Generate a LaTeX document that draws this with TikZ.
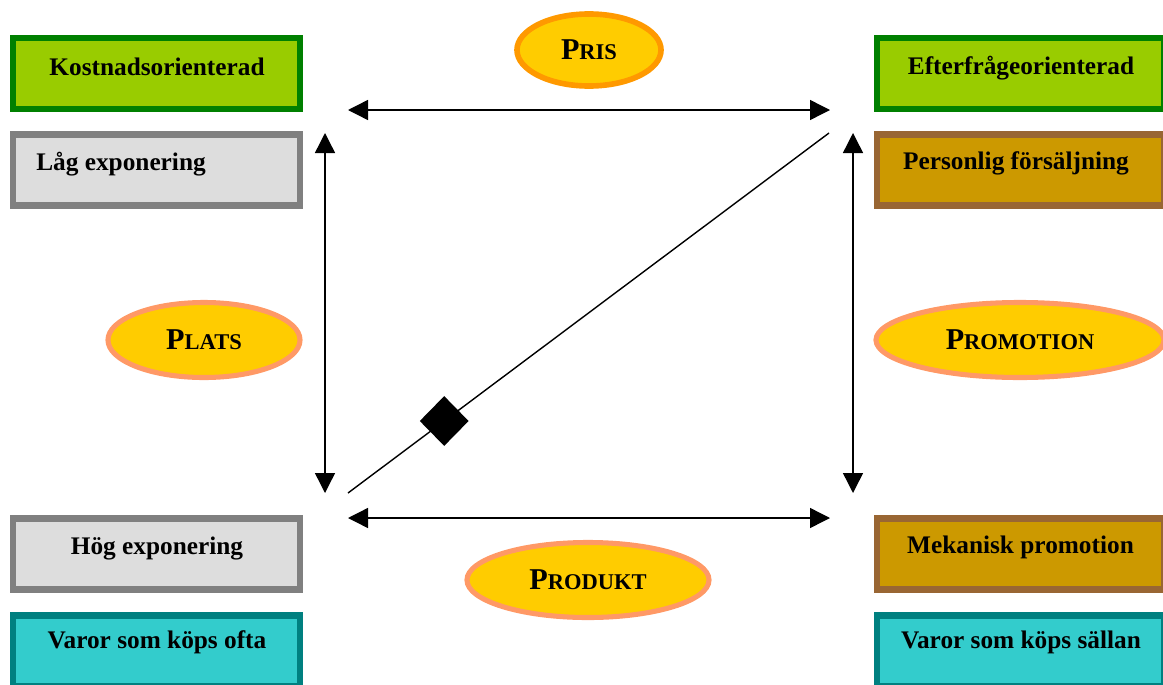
\documentclass[tikz,border=0pt]{standalone}
\usepackage{fontspec}
\setmainfont{Liberation Serif}
\usepackage{xcolor}
\usetikzlibrary{arrows.meta, positioning, calc, shapes.geometric}

\definecolor{limefill}{HTML}{99CC00}
\definecolor{limeline}{HTML}{008000}
\definecolor{greyfill}{HTML}{DDDDDD}
\definecolor{greyline}{HTML}{808080}
\definecolor{ochrefill}{HTML}{CC9900}
\definecolor{ochreline}{HTML}{996633}
\definecolor{tealfill}{HTML}{33CCCC}
\definecolor{tealline}{HTML}{008080}
\definecolor{goldfill}{HTML}{FFCC00}
\definecolor{orangeline}{HTML}{FF9900}
\definecolor{salmonline}{HTML}{FF9966}

% fake small caps: big first letter, smaller rest
\newcommand{\smcap}[2]{{\fontsize{21.5}{24}\selectfont #1}{\fontsize{16}{20}\selectfont #2}}

\begin{document}
\begin{tikzpicture}[x=0.025cm, y=-0.025cm,
    box/.style={draw, line width=4.3pt, minimum width=7.175cm, minimum height=1.775cm, inner sep=0pt},
    boxtext/.style={font=\fontsize{18}{20}\selectfont\bfseries, inner sep=0pt, anchor=base},
    pill/.style={ellipse, draw=salmonline, fill=goldfill, line width=3.6pt, inner sep=0pt, font=\bfseries},
    dbl/.style={{Triangle[length=0.5cm,width=0.5cm]}-{Triangle[length=0.5cm,width=0.5cm]}, line width=1pt}
]
    \useasboundingbox (0,0) rectangle (1163,684);

    % Left column
    \node[box, draw=limeline, fill=limefill] (kost) at (156.5,73.5) {};
    \node[box, draw=greyline, fill=greyfill] (lag) at (156.5,170) {};
    \node[box, draw=greyline, fill=greyfill] (hog) at (156.5,554) {};
    \node[box, draw=tealline, fill=tealfill] (ofta) at (156.5,651) {};
    \node[boxtext] (kost-t) at (157,75) {Kostnadsorienterad};
    \node[boxtext, anchor=base west] (lag-t) at (36,170) {Låg exponering};
    \node[boxtext] (hog-t) at (157,554) {Hög exponering};
    \node[boxtext] (ofta-t) at (157,648) {Varor som köps ofta};

    % Right column
    \node[box, draw=limeline, fill=limefill] (eft) at (1020.5,73.5) {};
    \node[box, draw=ochreline, fill=ochrefill] (pers) at (1020.5,170) {};
    \node[box, draw=ochreline, fill=ochrefill] (mek) at (1020.5,554) {};
    \node[box, draw=tealline, fill=tealfill] (sallan) at (1020.5,651) {};
    \node[boxtext] (eft-t) at (1021,74) {Efterfrågeorienterad};
    \node[boxtext] (pers-t) at (1016,169) {Personlig försäljning};
    \node[boxtext] (mek-t) at (1020.5,553) {Mekanisk promotion};
    \node[boxtext] (sallan-t) at (1021,648) {Varor som köps sällan};

    % The four P's
    \node[pill, draw=orangeline, line width=4pt, minimum width=3.6cm, minimum height=1.8cm] (pris) at (589,50) {\smcap{P}{RIS}};
    \node[pill, minimum width=4.8cm, minimum height=1.875cm] (plats) at (204,340) {\smcap{P}{LATS}\hspace{0.5cm}};
    \node[pill, minimum width=7.2cm, minimum height=1.875cm] (promo) at (1020,340) {\smcap{P}{ROMOTION}};
    \node[pill, minimum width=6.05cm, minimum height=1.875cm] (prod) at (588,580) {\smcap{P}{RODUKT}};

    % Arrow ends
    \coordinate (topL) at (348,110);
    \coordinate (topR) at (830,110);
    \coordinate (botL) at (348,518);
    \coordinate (botR) at (830,518);
    \coordinate (lftT) at (325,133);
    \coordinate (lftB) at (325,493);
    \coordinate (rgtT) at (853,133);
    \coordinate (rgtB) at (853,493);
    \coordinate (diaA) at (348,493);
    \coordinate (diaB) at (829,133);

    \draw[dbl] (topL) -- (topR);
    \draw[dbl] (botL) -- (botR);
    \draw[dbl] (lftT) -- (lftB);
    \draw[dbl] (rgtT) -- (rgtB);
    \draw[line width=1pt] (diaA) -- (diaB);
    \node[diamond, fill=black, minimum width=1.225cm, minimum height=1.25cm, inner sep=0pt] (mark) at ($(diaA)!0.2!(diaB)$) {};
\end{tikzpicture}
\end{document}
